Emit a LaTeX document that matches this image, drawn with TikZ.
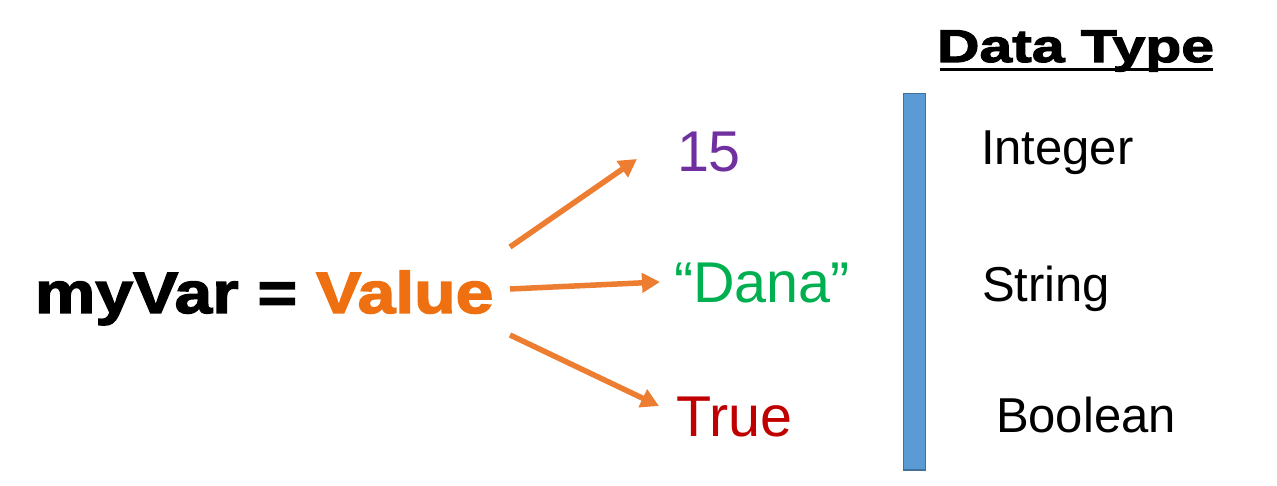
\documentclass[tikz,border=0pt]{standalone}
\usepackage{fontspec}
\setmainfont{Liberation Sans}
\newfontfamily\blackA{Liberation Sans Bold}[FakeStretch=1.16,FakeBold=2.5]
\newfontfamily\blackB{Liberation Sans Bold}[FakeStretch=1.28,FakeBold=2.5]
\usetikzlibrary{arrows.meta}
\definecolor{valor}{HTML}{EE7011}
\definecolor{arrcol}{HTML}{ED7D31}
\definecolor{purp}{HTML}{7030A0}
\definecolor{grn}{HTML}{00B050}
\definecolor{rd}{HTML}{C00000}
\definecolor{barfill}{HTML}{5B9BD5}
\definecolor{bardraw}{HTML}{41719C}
\begin{document}
\begin{tikzpicture}[x=1pt,y=1pt,
  txt/.style={anchor=base west,inner sep=0pt,outer sep=0pt},
  valtxt/.style={txt,font=\fontsize{57.5}{60}\selectfont},
  typetxt/.style={txt,font=\fontsize{49}{52}\selectfont},
  arr/.style={draw=arrcol,line width=5.5pt,-{Triangle[length=18pt,width=19pt]}}]
\useasboundingbox (0,0) rectangle (1277,485);
% left expression
\node[txt,font=\blackA\fontsize{58.5}{62}\selectfont] (lhs) at (35,172) {myVar = \textcolor{valor}{Value}};
% values
\node[valtxt,text=purp] (v15) at (677,313) {15};
\node[valtxt,text=grn] (dana) at (674,182) {“Dana”};
\node[valtxt,text=rd] (vtrue) at (676,49) {True};
% title
\node[txt,font=\blackB\fontsize{46}{50}\selectfont] (dt) at (937,423) {Data Type};
\draw[line width=3pt] (940,415) -- (1213,415);
% bar
\node[draw=bardraw,fill=barfill,line width=1.5pt,minimum width=22pt,minimum height=376pt,inner sep=0pt,anchor=south west] (bar) at (902.5,14.5) {};
% types
\node[typetxt] (tint) at (981,320) {Integer};
\node[typetxt] (tstr) at (982,183) {String};
\node[typetxt] (tbool) at (996,53) {Boolean};
% arrows
\coordinate (a1s) at (510,238);
\coordinate (a1e) at (637,326);
\coordinate (a2s) at (510,196);
\coordinate (a2e) at (660,203);
\coordinate (a3s) at (510,150);
\coordinate (a3e) at (659,79);
\draw[arr] (a1s) -- (a1e);
\draw[arr] (a2s) -- (a2e);
\draw[arr] (a3s) -- (a3e);
\end{tikzpicture}
\end{document}
